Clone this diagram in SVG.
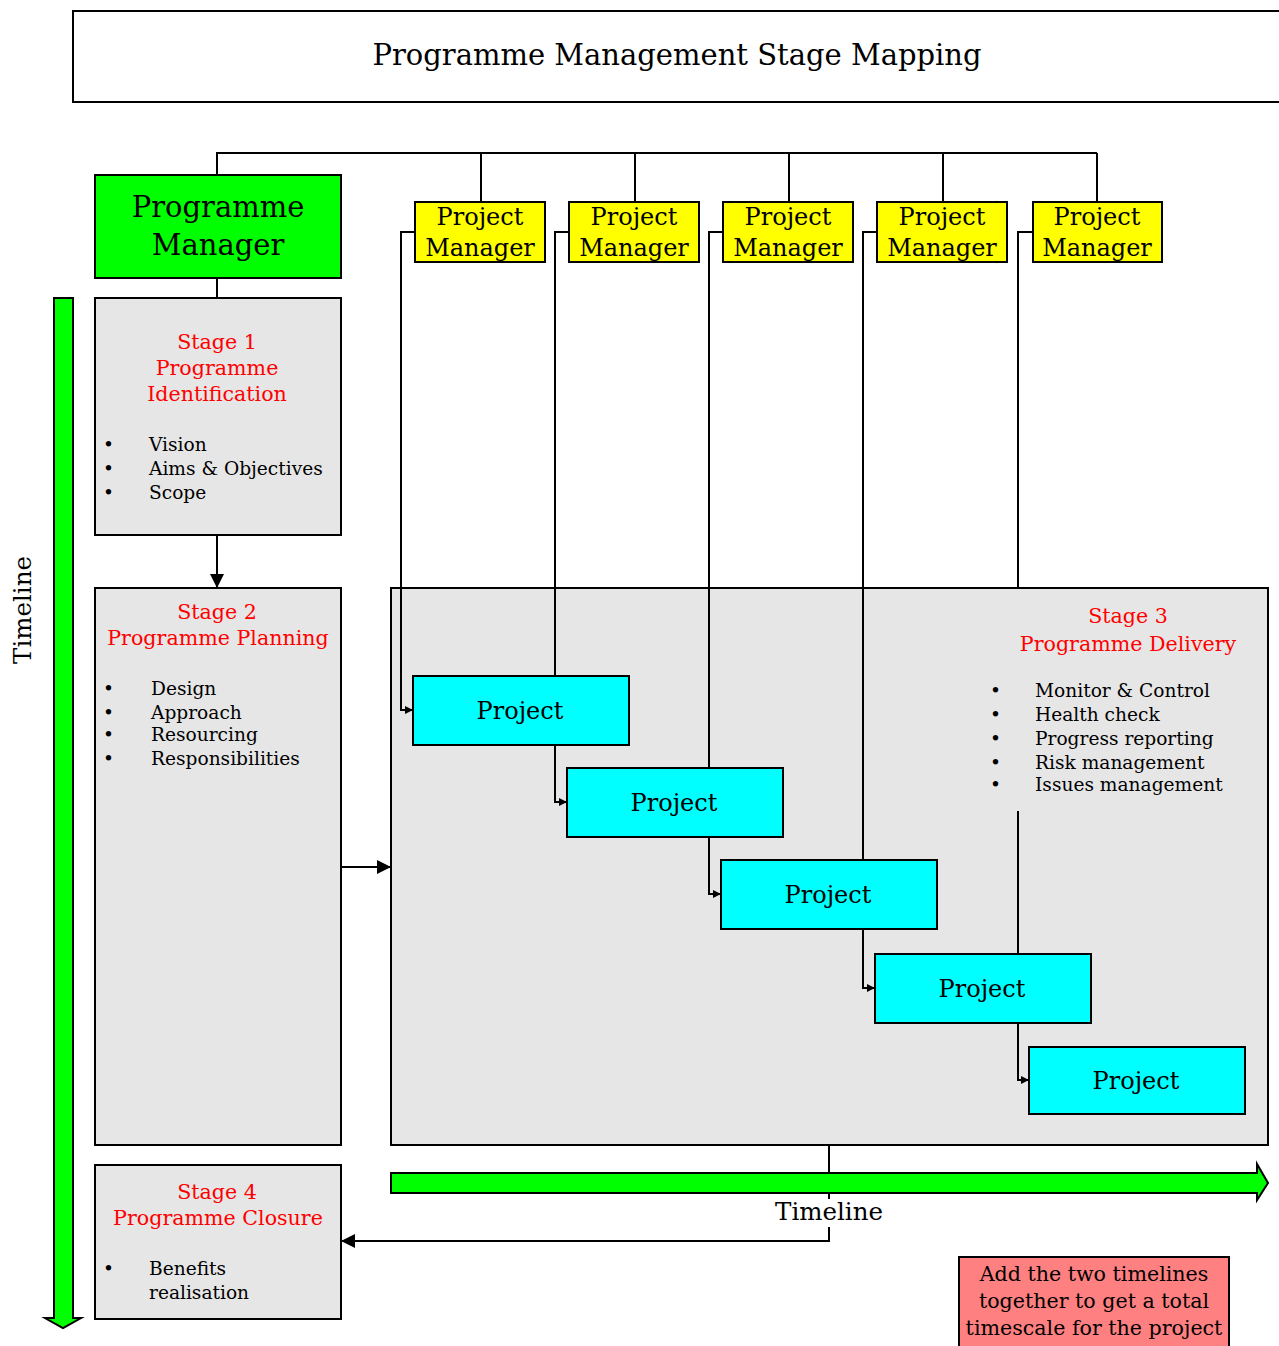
<svg xmlns="http://www.w3.org/2000/svg" width="1279" height="1346" viewBox="0 0 1279 1346">
<style>
text{font-family:"DejaVu Serif","Liberation Serif",serif;fill:#000}
.box{stroke:#000;stroke-width:2}
.grey{fill:#e6e6e6}
.red{fill:#ff0000}
.ln{fill:none;stroke:#000;stroke-width:2}
.t26{font-size:24px}
.s{font-size:18.6px}
.h{font-size:20.6px}
</style>
<defs>
<marker id="sm" markerWidth="8" markerHeight="8" refX="8" refY="4" orient="auto" markerUnits="userSpaceOnUse"><path d="M0,0 L8,4 L0,8 Z" fill="#000"/></marker>
<marker id="lg" markerWidth="14" markerHeight="14" refX="14" refY="7" orient="auto" markerUnits="userSpaceOnUse"><path d="M0,0 L14,7 L0,14 Z" fill="#000"/></marker>
</defs>
<rect width="1279" height="1346" fill="#fff"/>

<g id="title">
<rect class="box" x="73" y="11" width="1208" height="91" fill="#fff"/>
<text x="677" y="65" font-size="29" text-anchor="middle">Programme Management Stage Mapping</text>
</g>

<g id="stage3">
<rect class="box grey" x="391" y="588" width="877" height="557"/>
</g>

<g id="connectors">
<path class="ln" d="M217,175 V153 H1097 M481,153 V202 M635,153 V202 M789,153 V202 M943,153 V202 M1097,153 V202"/>
<path class="ln" d="M217,278 V298"/>
<path class="ln" d="M415,232 H401 V710 H413" marker-end="url(#sm)"/>
<path class="ln" d="M569,232 H555 V802 H567" marker-end="url(#sm)"/>
<path class="ln" d="M723,232 H709 V894 H721" marker-end="url(#sm)"/>
<path class="ln" d="M877,232 H863 V988 H875" marker-end="url(#sm)"/>
<path class="ln" d="M1033,232 H1018 V1080 H1029" marker-end="url(#sm)"/>
<path class="ln" d="M217,535 V588" marker-end="url(#lg)"/>
<path class="ln" d="M341,867 H391" marker-end="url(#lg)"/>
<path class="ln" d="M829,1145 V1241 H341" marker-end="url(#lg)"/>
</g>

<g id="stage3-text">
<rect x="985" y="589" width="282" height="222" fill="#e6e6e6"/>
<text class="h red" x="1128" y="623" text-anchor="middle">Stage 3</text>
<text class="h red" x="1128" y="651" text-anchor="middle">Programme Delivery</text>
<g class="s">
<text x="990" y="697">•</text><text x="1035" y="697">Monitor &amp; Control</text>
<text x="990" y="721">•</text><text x="1035" y="721">Health check</text>
<text x="990" y="745">•</text><text x="1035" y="745">Progress reporting</text>
<text x="990" y="769">•</text><text x="1035" y="769">Risk management</text>
<text x="990" y="791">•</text><text x="1035" y="791">Issues management</text>
</g>
</g>

<g id="programme-manager">
<rect class="box" x="95" y="175" width="246" height="103" fill="#00ff00"/>
<text x="218" y="217" font-size="29" text-anchor="middle">Programme</text>
<text x="218" y="255" font-size="29" text-anchor="middle">Manager</text>
</g>

<g id="pm1"><rect class="box" x="415" y="202" width="130" height="60" fill="#ffff00"/>
<text class="t26" x="480" y="225" text-anchor="middle">Project</text><text class="t26" x="480" y="256" text-anchor="middle">Manager</text></g>
<g id="pm2"><rect class="box" x="569" y="202" width="130" height="60" fill="#ffff00"/>
<text class="t26" x="634" y="225" text-anchor="middle">Project</text><text class="t26" x="634" y="256" text-anchor="middle">Manager</text></g>
<g id="pm3"><rect class="box" x="723" y="202" width="130" height="60" fill="#ffff00"/>
<text class="t26" x="788" y="225" text-anchor="middle">Project</text><text class="t26" x="788" y="256" text-anchor="middle">Manager</text></g>
<g id="pm4"><rect class="box" x="877" y="202" width="130" height="60" fill="#ffff00"/>
<text class="t26" x="942" y="225" text-anchor="middle">Project</text><text class="t26" x="942" y="256" text-anchor="middle">Manager</text></g>
<g id="pm5"><rect class="box" x="1033" y="202" width="129" height="60" fill="#ffff00"/>
<text class="t26" x="1097" y="225" text-anchor="middle">Project</text><text class="t26" x="1097" y="256" text-anchor="middle">Manager</text></g>

<g id="project1"><rect class="box" x="413" y="676" width="216" height="69" fill="#00ffff"/>
<text class="t26" x="520" y="719" text-anchor="middle">Project</text></g>
<g id="project2"><rect class="box" x="567" y="768" width="216" height="69" fill="#00ffff"/>
<text class="t26" x="674" y="811" text-anchor="middle">Project</text></g>
<g id="project3"><rect class="box" x="721" y="860" width="216" height="69" fill="#00ffff"/>
<text class="t26" x="828" y="903" text-anchor="middle">Project</text></g>
<g id="project4"><rect class="box" x="875" y="954" width="216" height="69" fill="#00ffff"/>
<text class="t26" x="982" y="997" text-anchor="middle">Project</text></g>
<g id="project5"><rect class="box" x="1029" y="1047" width="216" height="67" fill="#00ffff"/>
<text class="t26" x="1136" y="1089" text-anchor="middle">Project</text></g>

<g id="stage1">
<rect class="box grey" x="95" y="298" width="246" height="237"/>
<text class="h red" x="217" y="349" text-anchor="middle">Stage 1</text>
<text class="h red" x="217" y="375" text-anchor="middle">Programme</text>
<text class="h red" x="217" y="401" text-anchor="middle">Identification</text>
<g class="s">
<text x="103" y="451">•</text><text x="149" y="451">Vision</text>
<text x="103" y="475">•</text><text x="149" y="475">Aims &amp; Objectives</text>
<text x="103" y="499">•</text><text x="149" y="499">Scope</text>
</g>
</g>

<g id="stage2">
<rect class="box grey" x="95" y="588" width="246" height="557"/>
<text class="h red" x="217" y="619" text-anchor="middle">Stage 2</text>
<text class="h red" x="218" y="645" text-anchor="middle">Programme Planning</text>
<g class="s">
<text x="103" y="695">•</text><text x="151" y="695">Design</text>
<text x="103" y="719">•</text><text x="151" y="719">Approach</text>
<text x="103" y="741">•</text><text x="151" y="741">Resourcing</text>
<text x="103" y="765">•</text><text x="151" y="765">Responsibilities</text>
</g>
</g>

<g id="stage4">
<rect class="box grey" x="95" y="1165" width="246" height="154"/>
<text class="h red" x="217" y="1199" text-anchor="middle">Stage 4</text>
<text class="h red" x="218" y="1225" text-anchor="middle">Programme Closure</text>
<g class="s">
<text x="103" y="1275">•</text><text x="149" y="1275">Benefits</text>
<text x="149" y="1299">realisation</text>
</g>
</g>

<g id="timeline-vertical">
<path class="box" d="M54,298 H73 V1318 H81 L63,1328 L45,1318 H54 Z" fill="#00ff00"/>
<text x="0" y="0" font-size="24.5" text-anchor="middle" transform="translate(31,610) rotate(-90)">Timeline</text>
</g>

<g id="timeline-horizontal">
<path class="box" d="M391,1173 H1257 V1164 L1268,1183 L1257,1200 V1193 H391 Z" fill="#00ff00"/>
<rect x="778" y="1199" width="102" height="28" fill="#fff"/>
<text x="829" y="1220" font-size="24.5" text-anchor="middle">Timeline</text>
</g>

<g id="note">
<rect class="box" x="959" y="1257" width="270" height="95" fill="#ff8080"/>
<text x="1094" y="1281" font-size="20.6" text-anchor="middle">Add the two timelines</text>
<text x="1094" y="1308" font-size="20.6" text-anchor="middle">together to get a total</text>
<text x="1094" y="1335" font-size="20.6" text-anchor="middle">timescale for the project</text>
</g>
</svg>
